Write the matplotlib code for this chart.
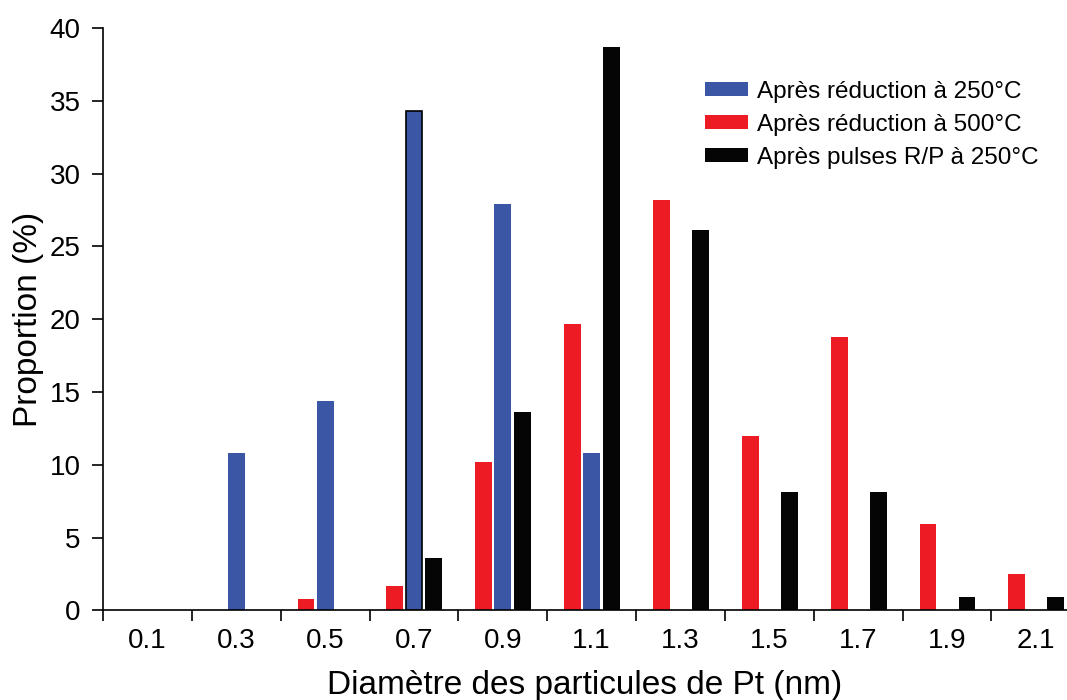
import numpy as np
import matplotlib.pyplot as plt
from matplotlib.ticker import FixedLocator, NullFormatter, FixedFormatter

plt.rcParams['font.family'] = ['Liberation Sans', 'DejaVu Sans']

# Données
diametres = ['0.1', '0.3', '0.5', '0.7', '0.9', '1.1', '1.3', '1.5', '1.7', '1.9', '2.1']
red_250 = [0, 10.8, 14.4, 34.3, 27.9, 10.8, 0, 0, 0, 0, 0]
red_500 = [0, 0, 0.8, 1.7, 10.2, 19.7, 28.2, 12.0, 18.8, 5.9, 2.5]
pulses_rp = [0, 0, 0, 3.6, 13.6, 38.7, 26.1, 8.1, 8.1, 0.9, 0.9]

c_bleu = '#3A56A5'
c_rouge = '#ED1C24'
c_noir = '#050505'

x = np.arange(len(diametres))
w = 0.19

fig = plt.figure(figsize=(10.67, 7), dpi=100)
ax = fig.add_axes([0.0965, 0.128, 0.9035, 0.832])

b_rouge = ax.bar(x - 0.215, red_500, w, color=c_rouge)
b_bleu = ax.bar(x, red_250, w, color=c_bleu)
b_noir = ax.bar(x + 0.225, pulses_rp, w, color=c_noir)
# barre 0.7 avec contour noir
b_bleu[3].set_edgecolor('black')
b_bleu[3].set_linewidth(1.2)

ax.set_xlim(-0.5, 10.35)
ax.set_ylim(0, 40)
ax.set_yticks(np.arange(0, 41, 5))

ax.xaxis.set_major_locator(FixedLocator(np.arange(-0.5, 10.5, 1)))
ax.xaxis.set_major_formatter(NullFormatter())
ax.xaxis.set_minor_locator(FixedLocator(x))
ax.xaxis.set_minor_formatter(FixedFormatter(diametres))
ax.tick_params(axis='x', which='minor', length=0, labelsize=20, pad=13)
ax.tick_params(axis='x', which='major', direction='out', length=8, width=1.2)
ax.tick_params(axis='y', direction='out', length=8, width=1.2, labelsize=20, pad=8)

for s in ['top', 'right']:
    ax.spines[s].set_visible(False)
for s in ['left', 'bottom']:
    ax.spines[s].set_linewidth(1.2)

ax.set_xlabel('Diamètre des particules de Pt (nm)', fontsize=24, labelpad=11)
ax.set_ylabel('Proportion (%)', fontsize=24, labelpad=4)

fig.legend([b_bleu, b_rouge, b_noir],
           ['Après réduction à 250°C', 'Après réduction à 500°C', 'Après pulses R/P à 250°C'],
           loc='upper left', bbox_to_anchor=(0.6495, 0.902), frameon=False,
           fontsize=17.5, handlelength=1.75, handleheight=0.55, labelspacing=0.45,
           handletextpad=0.4, borderpad=0)

fig.savefig('out.png', dpi=100)
